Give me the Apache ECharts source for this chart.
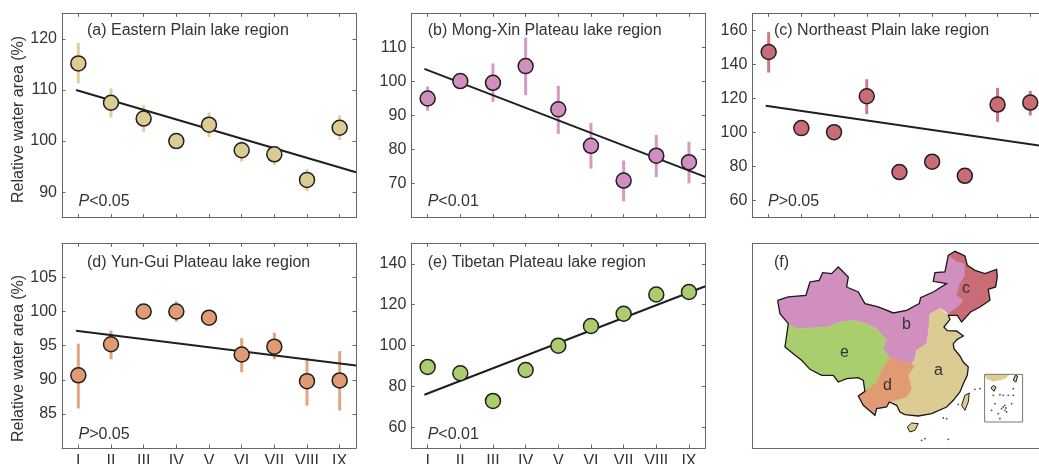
<!DOCTYPE html>
<html><head><meta charset="utf-8">
<style>html,body{margin:0;padding:0;background:#fff;overflow:hidden}#c{width:1039px;height:464px}</style>
<script src="https://cdn.jsdelivr.net/npm/echarts@6/dist/echarts.min.js"></script>
</head><body><div id="c"></div>
<script>
const months = ['I','II','III','IV','V','VI','VII','VIII','IX'];
const positions = [1,2,3,4,5,6,7,8,9];

const valuesA = [115.2,107.5,104.4,100,103.2,98.2,97.4,92.4,102.6];
const lowA  = [111.3,104.6,101.8,null,100.8,96,95.3,90.2,100.2];
const highA = [119.2,110.3,107,null,105.6,100,99,94.5,105];
const trendA = [[0.93,110],[9.5,93.9]];
const ticksA = [90,100,110,120];

const valuesB = [95,100.1,99.6,104.5,91.8,81.1,70.9,78.2,76.3];
const lowB  = [91.4,null,94,96,84.6,74.4,64.8,71.9,70.1];
const highB = [98.5,null,105.3,112.9,98.7,87.8,76.8,84.3,82.3];
const trendB = [[0.9,103.7],[9.5,72]];
const ticksB = [70,80,90,100,110];

const valuesC = [147.3,102.6,100.2,121.3,76.8,82.9,74.6,116.4,117.6];
const lowC  = [135.2,null,null,110.8,null,null,null,106.3,110];
const highC = [159,null,null,131.3,null,null,null,126.2,124.5];
const trendC = [[0.91,115.7],[9.5,91.7]];
const ticksC = [60,80,100,120,140,160];

const valuesD = [90.65,95.2,100,100,99.1,93.7,94.85,89.8,89.9];
const lowD  = [85.8,93,null,98.5,null,91.1,93,86.2,85.5];
const highD = [95.3,97.2,null,101.5,null,96.1,96.9,93.2,94.2];
const trendD = [[0.93,97.2],[9.5,92.1]];
const ticksD = [85,90,95,100,105];

const valuesE = [89.6,86.5,73,88.1,100,109.6,115.6,125,126.2];
const lowE  = [null,null,null,null,null,null,null,null,null];
const highE = [null,null,null,null,null,null,null,null,null];
const trendE = [[0.9,76],[9.5,129]];
const ticksE = [60,80,100,120,140];

// map outlines, in the hidden map axes' own units
const regionA = [[600,245],[618,238],[633,228],[643,240],[655,250],[660,262],[642,285],[652,296],[680,297],[700,312],[682,322],[670,335],[672,350],[690,372],[700,390],[715,405],[712,430],[700,455],[690,480],[670,505],[650,525],[605,545],[565,552],[525,548],[510,540],[500,520],[478,510],[530,495],[545,470],[535,430],[553,403],[545,395],[555,380],[560,355],[590,335],[596,295]];
const regionB = [[143,205],[175,195],[228,190],[240,150],[268,145],[278,122],[305,125],[325,105],[355,135],[350,165],[385,180],[405,215],[445,225],[490,243],[530,235],[568,215],[572,197],[610,180],[650,155],[610,148],[615,122],[645,120],[655,70],[680,88],[705,95],[705,130],[690,155],[680,190],[700,205],[690,218],[655,245],[633,228],[600,245],[596,295],[590,335],[560,355],[555,380],[545,395],[480,378],[458,350],[470,325],[440,290],[405,275],[375,265],[330,270],[295,285],[200,290],[175,275],[150,245]];
const regionC = [[655,70],[675,58],[705,72],[712,100],[735,115],[765,125],[800,112],[802,135],[797,165],[775,172],[780,205],[750,225],[722,240],[695,270],[682,250],[655,250],[655,245],[690,218],[700,205],[680,190],[690,155],[705,130],[705,95],[680,88]];
const regionD = [[480,378],[545,395],[553,403],[535,430],[545,470],[530,495],[478,510],[470,525],[440,530],[435,550],[400,520],[385,492],[405,478],[440,450],[455,415]];
const regionE = [[175,275],[200,290],[295,285],[330,270],[375,265],[405,275],[440,290],[470,325],[458,350],[480,378],[455,415],[440,450],[405,478],[400,445],[385,437],[350,440],[325,450],[310,430],[275,430],[240,412],[215,385],[190,365],[165,345],[170,310]];
const hainan = [[532,585],[545,573],[565,575],[555,595],[540,600]];
const taiwan = [[695,520],[705,490],[718,483],[715,510],[705,535]];
const insetLand = [[764,428],[838,428],[825,440],[790,448],[770,440]];
const insetHainan = [[783,468],[790,460],[798,465],[792,478]];
const insetTaiwan = [[850,445],[856,430],[863,432],[858,450]];
const insetFrame = [[764,427],[878,427],[878,570],[764,570],[764,427]];
const outerCoast = [[143,205],[175,195],[228,190],[240,150],[268,145],[278,122],[305,125],[325,105],[355,135],[350,165],[385,180],[405,215],[445,225],[490,243],[530,235],[568,215],[572,197],[610,180],[650,155],[610,148],[615,122],[645,120],[655,70],[675,58],[705,72],[712,100],[735,115],[765,125],[800,112],[802,135],[797,165],[775,172],[780,205],[750,225],[722,240],[695,270],[682,250],[655,250],[660,262],[642,285],[652,296],[680,297],[700,312],[682,322],[670,335],[672,350],[690,372],[700,390],[715,405],[712,430],[700,455],[690,480],[670,505],[650,525],[605,545],[565,552],[525,548],[510,540],[500,520],[478,510],[470,525],[440,530],[435,550],[400,520],[385,492],[405,478],[400,445],[385,437],[350,440],[325,450],[310,430],[275,430],[240,412],[215,385],[190,365],[165,345],[170,310],[175,275],[150,245],[143,205]];
const islands = [[735,472],[750,470],[640,558],[650,560],[585,620],[655,622],[575,625],[685,517],[790,490],[810,488],[820,490],[835,490],[850,490],[850,470],[795,515],[825,520],[815,530],[825,535],[805,545],[830,540],[845,515],[810,560],[785,535],[820,525],[828,528]];

const colorA='#dccb93', colorB='#d08fbe', colorC='#c96c76', colorD='#e09b73', colorE='#aace6e';
const ink='#333333', frame='#666666', dark='#1f1f1f';

const panels = [
 {l:62,  t:13.3, w:294, h:204.4, min:85, max:125, v:valuesA, lo:lowA, hi:highA, tr:trendA, ticks:ticksA, c:colorA, labels:false},
 {l:411.3,t:13.3,w:294, h:204.4, min:60, max:120, v:valuesB, lo:lowB, hi:highB, tr:trendB, ticks:ticksB, c:colorB, labels:false},
 {l:752.3,t:13.3,w:294.3,h:204.4,min:50, max:170, v:valuesC, lo:lowC, hi:highC, tr:trendC, ticks:ticksC, c:colorC, labels:false},
 {l:62,  t:243.3,w:294, h:204.7, min:80, max:110, v:valuesD, lo:lowD, hi:highD, tr:trendD, ticks:ticksD, c:colorD, labels:true},
 {l:411.3,t:243.3,w:294,h:204.7, min:50, max:150, v:valuesE, lo:lowE, hi:highE, tr:trendE, ticks:ticksE, c:colorE, labels:true}
];

const grid=[], xAxis=[], yAxis=[], series=[];
const lineS = {show:true, lineStyle:{color:frame, width:1}};
const tickS = {show:true, inside:true, length:3.5, lineStyle:{color:frame, width:1}};
panels.forEach((p,i)=>{
  grid.push({left:p.l, top:p.t, width:p.w, height:p.h, outerBoundsMode:'none', containLabel:false});
  const x0=xAxis.length, y0=yAxis.length;
  xAxis.push({gridIndex:i,type:'value',min:0.5,max:9.5,position:'bottom',splitLine:{show:false},axisLine:{...lineS,onZero:false},
    axisTick:{...tickS,customValues:positions},
    axisLabel:{show:p.labels,customValues:positions,margin:6,color:ink,fontSize:16,fontFamily:'Liberation Sans',showMinLabel:true,showMaxLabel:true,hideOverlap:false,formatter:v=>months[v-1]||''}});
  xAxis.push({gridIndex:i,type:'value',min:0.5,max:9.5,position:'top',splitLine:{show:false},axisLine:{...lineS,onZero:false},
    axisTick:{...tickS,customValues:positions},axisLabel:{show:false}});
  yAxis.push({gridIndex:i,type:'value',min:p.min,max:p.max,position:'left',splitLine:{show:false},axisLine:{...lineS,onZero:false},
    axisTick:{...tickS,customValues:p.ticks},
    axisLabel:{customValues:p.ticks,margin:5,color:ink,fontSize:16,fontFamily:'Liberation Sans'}});
  yAxis.push({gridIndex:i,type:'value',min:p.min,max:p.max,position:'right',splitLine:{show:false},axisLine:{...lineS,onZero:false},
    axisTick:{...tickS,customValues:p.ticks},axisLabel:{show:false}});
  series.push({type:'custom',xAxisIndex:x0,yAxisIndex:y0,z:2,silent:true,clip:false,
    data:positions.map((x,k)=>[x,p.lo[k],p.hi[k]]).filter(r=>r[1]!==null),
    encode:{x:0,y:[1,2]},
    renderItem:(params,api)=>{
      const a=api.coord([api.value(0),api.value(1)]), b=api.coord([api.value(0),api.value(2)]);
      return {type:'line',shape:{x1:a[0],y1:a[1],x2:b[0],y2:b[1]},style:{stroke:p.c,lineWidth:3,opacity:0.9}};
    }});
  series.push({type:'line',xAxisIndex:x0,yAxisIndex:y0,z:3,silent:true,symbol:'none',data:p.tr,lineStyle:{color:dark,width:2},clip:true});
  series.push({type:'scatter',xAxisIndex:x0,yAxisIndex:y0,z:4,silent:true,clip:false,symbol:'circle',symbolSize:15,
    data:positions.map((x,k)=>[x,p.v[k]]),itemStyle:{color:p.c,borderColor:dark,borderWidth:1.5,opacity:1}});
});

// panel (f)
const mi=panels.length;
grid.push({left:752.3,top:243.3,width:294.3,height:204.7,outerBoundsMode:'none'});
xAxis.push({gridIndex:mi,type:'value',min:67,max:950,position:'bottom',splitLine:{show:false},axisLine:{...lineS,onZero:false},axisTick:{show:false},axisLabel:{show:false}});
xAxis.push({gridIndex:mi,type:'value',min:67,max:950,position:'top',splitLine:{show:false},axisLine:{...lineS,onZero:false},axisTick:{show:false},axisLabel:{show:false}});
yAxis.push({gridIndex:mi,type:'value',inverse:true,min:34,max:648,position:'left',splitLine:{show:false},axisLine:{...lineS,onZero:false},axisTick:{show:false},axisLabel:{show:false}});
const mx=xAxis.length-2, my=yAxis.length-1;
function shape(ring,fill,stroke,lw,z,closed){
  series.push({type:'custom',xAxisIndex:mx,yAxisIndex:my,z:z,silent:true,clip:false,data:ring,encode:{x:0,y:1},
    renderItem:(params,api)=>{
      if(params.dataIndex!==0) return {type:'group',children:[]};
      const pts=ring.map(q=>api.coord(q));
      return {type:closed?'polygon':'polyline',shape:{points:pts},style:{fill:closed?fill:'none',stroke:stroke,lineWidth:lw}};
    }});
}
shape(regionB,colorB,colorB,0.5,2,true);
shape(regionE,colorE,colorE,0.5,2,true);
shape(regionC,colorC,colorC,0.5,2,true);
shape(regionA,colorA,colorA,0.5,2,true);
shape(regionD,colorD,colorD,0.5,2,true);
shape(outerCoast,'none','#1a1a1a',1.3,3,false);
shape(hainan,colorA,'#1a1a1a',1,3,true);
shape(taiwan,colorA,'#1a1a1a',1,3,true);
shape(insetLand,colorA,colorA,0.5,2,true);
shape(insetHainan,colorA,'#1a1a1a',1,3,true);
shape(insetTaiwan,colorA,'#1a1a1a',1,3,true);
shape(insetFrame,'none','#777777',1,4,false);
series.push({type:'scatter',xAxisIndex:mx,yAxisIndex:my,z:3,silent:true,clip:false,symbol:'circle',symbolSize:1.8,data:islands,itemStyle:{color:'#222'}});

const font='Liberation Sans';
function txt(x,y,t,size){return {type:'text',x,y,silent:true,z:10,style:{text:t,fill:ink,font:`${size||16}px "${font}"`,textAlign:'left',textVerticalAlign:'middle',verticalAlign:'middle'}};}
function pval(x,y,rest){return {type:'text',x,y,silent:true,z:10,style:{text:`{i|P}{n|${rest}}`,verticalAlign:'middle',textVerticalAlign:'middle',rich:{i:{fontStyle:'italic',fontSize:16,fontFamily:font,fill:ink,color:ink},n:{fontSize:16,fontFamily:font,fill:ink,color:ink}}}};}
function yname(x,y){return {type:'text',x,y,rotation:Math.PI/2,silent:true,z:10,style:{text:'Relative water area (%)',fill:ink,font:`16px "${font}"`,textAlign:'left',verticalAlign:'middle',textVerticalAlign:'middle'}};}
const graphic=[
 txt(87,31,'(a) Eastern Plain lake region'),
 txt(427.7,31,'(b) Mong-Xin Plateau lake region'),
 txt(774,31,'(c) Northeast Plain lake region'),
 txt(87,262.7,'(d) Yun-Gui Plateau lake region'),
 txt(427.7,262.7,'(e) Tibetan Plateau lake region'),
 pval(78.5,202,'<0.05'),pval(427.7,202,'<0.01'),pval(768,202,'>0.05'),
 pval(78.5,435,'>0.05'),pval(427.7,435,'<0.01'),
 yname(19,203),yname(19,442),
 txt(774,263,'(f)'),
 txt(962,289,'c'),txt(902,325,'b'),txt(840,353,'e'),txt(883,386,'d'),txt(934,371,'a')
];

const chart=echarts.init(document.getElementById('c'),null,{renderer:'canvas'});
chart.setOption({animation:false,backgroundColor:'#fff',grid,xAxis,yAxis,series,graphic});
</script></body></html>
